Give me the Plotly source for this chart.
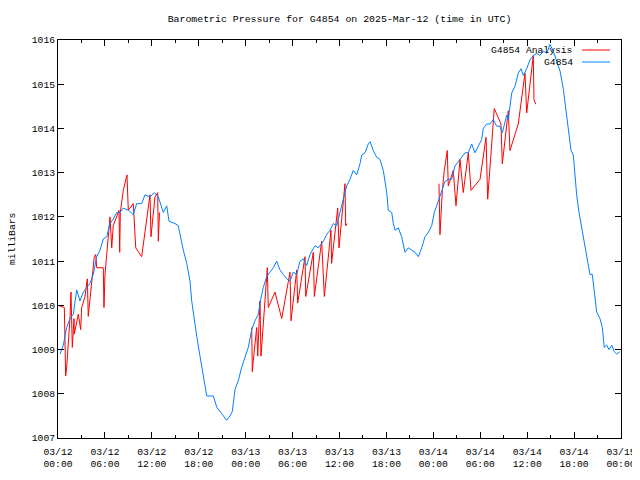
import plotly.graph_objects as go
from datetime import datetime, timedelta

# ---- data (hours after 2025-03-12 00:00 UTC, pressure in mb) ----
start_time = datetime(2025, 3, 12, 0, 0)

obs_hours = [0.26, 0.68, 1.11, 1.53, 1.96, 2.39, 2.81, 3.24, 3.67, 4.09, 4.51, 4.95, 5.37, 5.79,
             6.23, 6.65, 7.07, 7.51, 7.93, 8.35, 8.99, 9.63, 10.06, 10.70, 11.13, 11.77, 12.32,
             12.83, 13.47, 13.90, 14.20, 14.96, 15.38, 15.60, 16.02, 16.46, 16.88, 17.10, 17.43,
             17.74, 18.16, 18.58, 19.02, 19.86, 20.30, 20.93, 21.57, 22.00, 22.29, 22.64, 23.06,
             23.49, 23.91, 24.34, 24.77, 25.19, 25.62, 25.83, 26.25, 26.69, 27.11, 27.53, 27.97,
             28.39, 28.81, 29.25, 29.67, 30.09, 30.53, 30.95, 31.37, 31.81, 32.23, 32.87, 33.29,
             33.93, 34.36, 34.79, 35.21, 35.64, 36.06, 36.49, 36.92, 37.34, 37.76, 38.20, 38.62,
             38.84, 39.26, 39.68, 39.90, 40.32, 40.76, 41.18, 41.60, 42.04, 42.24, 42.68, 42.88,
             43.10, 43.52, 43.95, 44.38, 44.80, 45.23, 45.66, 46.08, 46.51, 46.93, 47.36, 47.79,
             48.12, 48.43, 48.72, 49.07, 49.49, 49.91, 50.35, 50.77, 51.19, 51.63, 52.05, 52.47,
             52.91, 53.33, 53.75, 54.18, 54.39, 54.82, 55.25, 55.67, 56.10, 56.52, 56.82, 57.07,
             57.38, 57.59, 57.80, 58.02, 58.44, 58.86, 59.21, 59.51, 59.94, 60.36, 60.78, 61.22,
             61.64, 62.06, 62.50, 62.92, 63.34, 63.78, 64.20, 64.62, 64.84, 65.26, 65.61, 65.90,
             66.12, 66.33, 66.63, 66.97, 67.27, 67.52, 67.82, 68.03, 68.33, 68.59, 68.89, 69.31,
             69.61, 69.86, 70.17, 70.46, 70.81, 71.14, 71.44, 71.86]
obs_mb = [1008.9, 1009.1, 1009.5, 1009.7, 1009.8, 1010.35, 1010.1, 1010.3, 1010.4, 1010.5, 1010.7,
          1011.1, 1011.25, 1011.5, 1011.55, 1011.85, 1011.95, 1012.1, 1012.1, 1012.2, 1012.15,
          1012.05, 1012.3, 1012.3, 1012.5, 1012.45, 1012.55, 1012.45, 1012.1, 1012.25, 1011.9,
          1011.85, 1011.8, 1011.6, 1011.25, 1010.95, 1010.55, 1010.1, 1009.65, 1009.3, 1008.85,
          1008.4, 1007.95, 1007.95, 1007.7, 1007.55, 1007.4, 1007.5, 1007.6, 1008.1, 1008.3,
          1008.6, 1008.8, 1009.05, 1009.45, 1009.65, 1009.8, 1010.05, 1010.4, 1010.65, 1010.75,
          1010.85, 1011.0, 1010.8, 1010.7, 1010.6, 1010.55, 1010.75, 1010.7, 1011.0, 1011.05,
          1010.9, 1011.15, 1011.35, 1011.3, 1011.45, 1011.6, 1011.7, 1011.85, 1011.8, 1012.1,
          1012.4, 1012.7, 1012.85, 1013.05, 1012.95, 1013.2, 1013.4, 1013.45, 1013.65, 1013.7,
          1013.5, 1013.35, 1013.3, 1013.05, 1012.55, 1012.15, 1012.1, 1011.85, 1011.7, 1011.75,
          1011.55, 1011.2, 1011.3, 1011.25, 1011.2, 1011.1, 1011.3, 1011.55, 1011.65, 1011.8,
          1012.1, 1012.25, 1012.4, 1012.6, 1012.8, 1012.85, 1012.85, 1013.15, 1013.25, 1013.35,
          1013.45, 1013.45, 1013.65, 1013.45, 1013.6, 1013.75, 1014.0, 1014.1, 1014.1, 1014.2,
          1014.05, 1014.05, 1013.9, 1014.1, 1014.3, 1014.2, 1014.55, 1014.8, 1014.95, 1015.25,
          1015.35, 1015.2, 1015.35, 1015.55, 1015.65, 1015.7, 1015.65, 1015.75, 1015.7, 1015.9,
          1015.75, 1015.5, 1015.3, 1014.9, 1014.6, 1014.0, 1013.5, 1013.4, 1012.9, 1012.5,
          1012.1, 1011.75, 1011.5, 1011.15, 1010.85, 1010.7, 1010.7, 1010.25, 1009.85, 1009.7,
          1009.5, 1009.05, 1009.1, 1009.0, 1009.1, 1008.95, 1008.9, 1008.95]

# analysis: three runs separated by None gaps
ana_hours = [0.0, 0.81, 0.98, 1.11, 1.53, 1.66, 1.83, 2.05, 2.08, 2.60, 2.90, 3.03, 3.45, 3.75,
             3.87, 4.31, 4.64, 4.82, 4.95, 5.79, 5.88, 6.01, 6.43, 6.65, 6.87, 7.07, 7.80, 7.89,
             7.97, 8.35, 8.82, 8.99, 9.63, 9.94, 10.70, 11.77, 11.89, 12.40, 12.75, 12.83, 12.98,
             None,
             24.77, 24.85, 24.97, 25.41, 25.54, 25.83, 25.96, 26.77, 26.89, 27.75, 28.61, 29.67,
             29.80, 30.53, 30.65, 31.59, 31.68, 32.65, 32.78, 33.72, 34.06, 34.91, 34.99, 35.42,
             35.77, 35.94, 36.70, 36.79, 36.99,
             None,
             48.72, 48.85, 49.15, 49.40, 49.78, 49.91, 50.55, 50.90, 51.41, 51.83, 52.47, 52.82,
             53.97, 54.74, 54.95, 55.79, 56.65, 56.82, 57.59, 57.80, 58.86, 59.72, 59.94, 60.78,
             60.87, 61.09]
ana_mb = [1010.0, 1009.95, 1008.4, 1008.6, 1009.7, 1010.3, 1009.05, 1009.7, 1009.35, 1009.8,
          1009.45, 1009.95, 1010.2, 1010.6, 1009.75, 1010.5, 1011.1, 1011.15, 1010.85, 1010.85,
          1009.95, 1010.7, 1011.5, 1012.0, 1011.3, 1011.8, 1012.15, 1011.2, 1012.1, 1012.6,
          1012.95, 1012.15, 1012.3, 1011.3, 1011.1, 1012.5, 1011.55, 1012.45, 1012.55, 1011.45,
          1012.1,
          None,
          1009.5, 1008.5, 1008.75, 1009.5, 1008.85, 1010.1, 1008.85, 1010.85, 1009.95, 1010.3,
          1009.7, 1010.75, 1009.65, 1010.8, 1010.05, 1011.1, 1010.2, 1011.2, 1010.2, 1011.45,
          1010.2, 1011.7, 1010.95, 1011.7, 1012.2, 1011.3, 1012.75, 1011.8, 1011.85,
          None,
          1012.75, 1011.6, 1012.6, 1013.05, 1013.5, 1012.7, 1013.05, 1012.25, 1013.3, 1012.55,
          1013.45, 1012.6, 1012.85, 1013.8, 1012.4, 1014.45, 1014.1, 1013.2, 1014.4, 1013.5,
          1014.1, 1015.25, 1014.35, 1015.65, 1014.65, 1014.55]

tick_hours = [0, 6, 12, 18, 24, 30, 36, 42, 48, 54, 60, 66, 72]
tick_labels = ["03/12<br>00:00", "03/12<br>06:00", "03/12<br>12:00", "03/12<br>18:00",
               "03/13<br>00:00", "03/13<br>06:00", "03/13<br>12:00", "03/13<br>18:00",
               "03/14<br>00:00", "03/14<br>06:00", "03/14<br>12:00", "03/14<br>18:00",
               "03/15<br>00:00"]
y_ticks = [1007, 1008, 1009, 1010, 1011, 1012, 1013, 1014, 1015, 1016]


def to_time(h):
    return None if h is None else start_time + timedelta(hours=h)


FONT = "Liberation Mono, DejaVu Sans Mono, monospace"
RED = "#ff0000"
BLUE = "#0080ff"

# the page shows the figure offset by 8px (body margin); plot area lands at x 58-621, y 40-438
FIG_W, FIG_H = 632, 472
ML, MT, PW, PH = 50, 32, 563, 398

fig = go.Figure()
fig.add_trace(go.Scatter(x=[to_time(h) for h in ana_hours], y=ana_mb, mode="lines",
                         name="G4854 Analysis", line=dict(color=RED, width=1),
                         connectgaps=False, showlegend=False))
fig.add_trace(go.Scatter(x=[to_time(h) for h in obs_hours], y=obs_mb, mode="lines",
                         name="G4854", line=dict(color=BLUE, width=1), showlegend=False))

fig.update_layout(
    width=FIG_W, height=FIG_H,
    paper_bgcolor="white", plot_bgcolor="white",
    margin=dict(l=ML, r=FIG_W - ML - PW, t=MT, b=FIG_H - MT - PH, autoexpand=False),
    font=dict(family=FONT, size=10, color="black"),
    title=dict(text="Barometric Pressure for G4854 on 2025-Mar-12 (time in UTC)",
               x=331.5 / FIG_W, xref="container", xanchor="center",
               y=1 - 11 / FIG_H, yref="container", yanchor="middle",
               font=dict(family=FONT, size=9.9, color="black")),
    xaxis=dict(range=[to_time(0), to_time(72)], tickvals=[to_time(h) for h in tick_hours],
               ticktext=tick_labels, ticks="inside", ticklen=6, tickcolor="black",
               showline=True, linecolor="black", linewidth=1, mirror="ticks",
               showgrid=False, zeroline=False, ticklabelstandoff=4,
               tickfont=dict(family=FONT, size=9.7),
               minor=dict(ticks="inside", ticklen=3, tickcolor="black", dtick=3 * 3600 * 1000,
                          showgrid=False)),
    yaxis=dict(range=[1007, 1016], tickvals=y_ticks, ticks="inside", ticklen=6,
               tickcolor="black", showline=True, linecolor="black", linewidth=1,
               mirror="ticks", showgrid=False, zeroline=False, ticksuffix=" ",
               tickfont=dict(family=FONT, size=9.7)),
)

# y-axis label
fig.add_annotation(text="milliBars", xref="paper", yref="paper", x=(12 - 58) / PW,
                   y=0.5, textangle=-90, showarrow=False, xanchor="center", yanchor="middle",
                   font=dict(family=FONT, size=9.7))

# gnuplot-style key: right-aligned text with sample line on the right
key_entries = [("G4854 Analysis", RED, 50), ("G4854", BLUE, 62)]
for label, color, py in key_entries:
    yp = (438 - py) / PH
    fig.add_annotation(text=label, xref="paper", yref="paper", x=(575 - 58) / PW, y=yp,
                       xanchor="right", yanchor="middle", showarrow=False,
                       font=dict(family=FONT, size=9.7))
    fig.add_shape(type="line", xref="paper", yref="paper", x0=(582 - 58) / PW,
                  x1=(610 - 58) / PW, y0=yp, y1=yp, line=dict(color=color, width=1))

fig.write_html("out.html")
